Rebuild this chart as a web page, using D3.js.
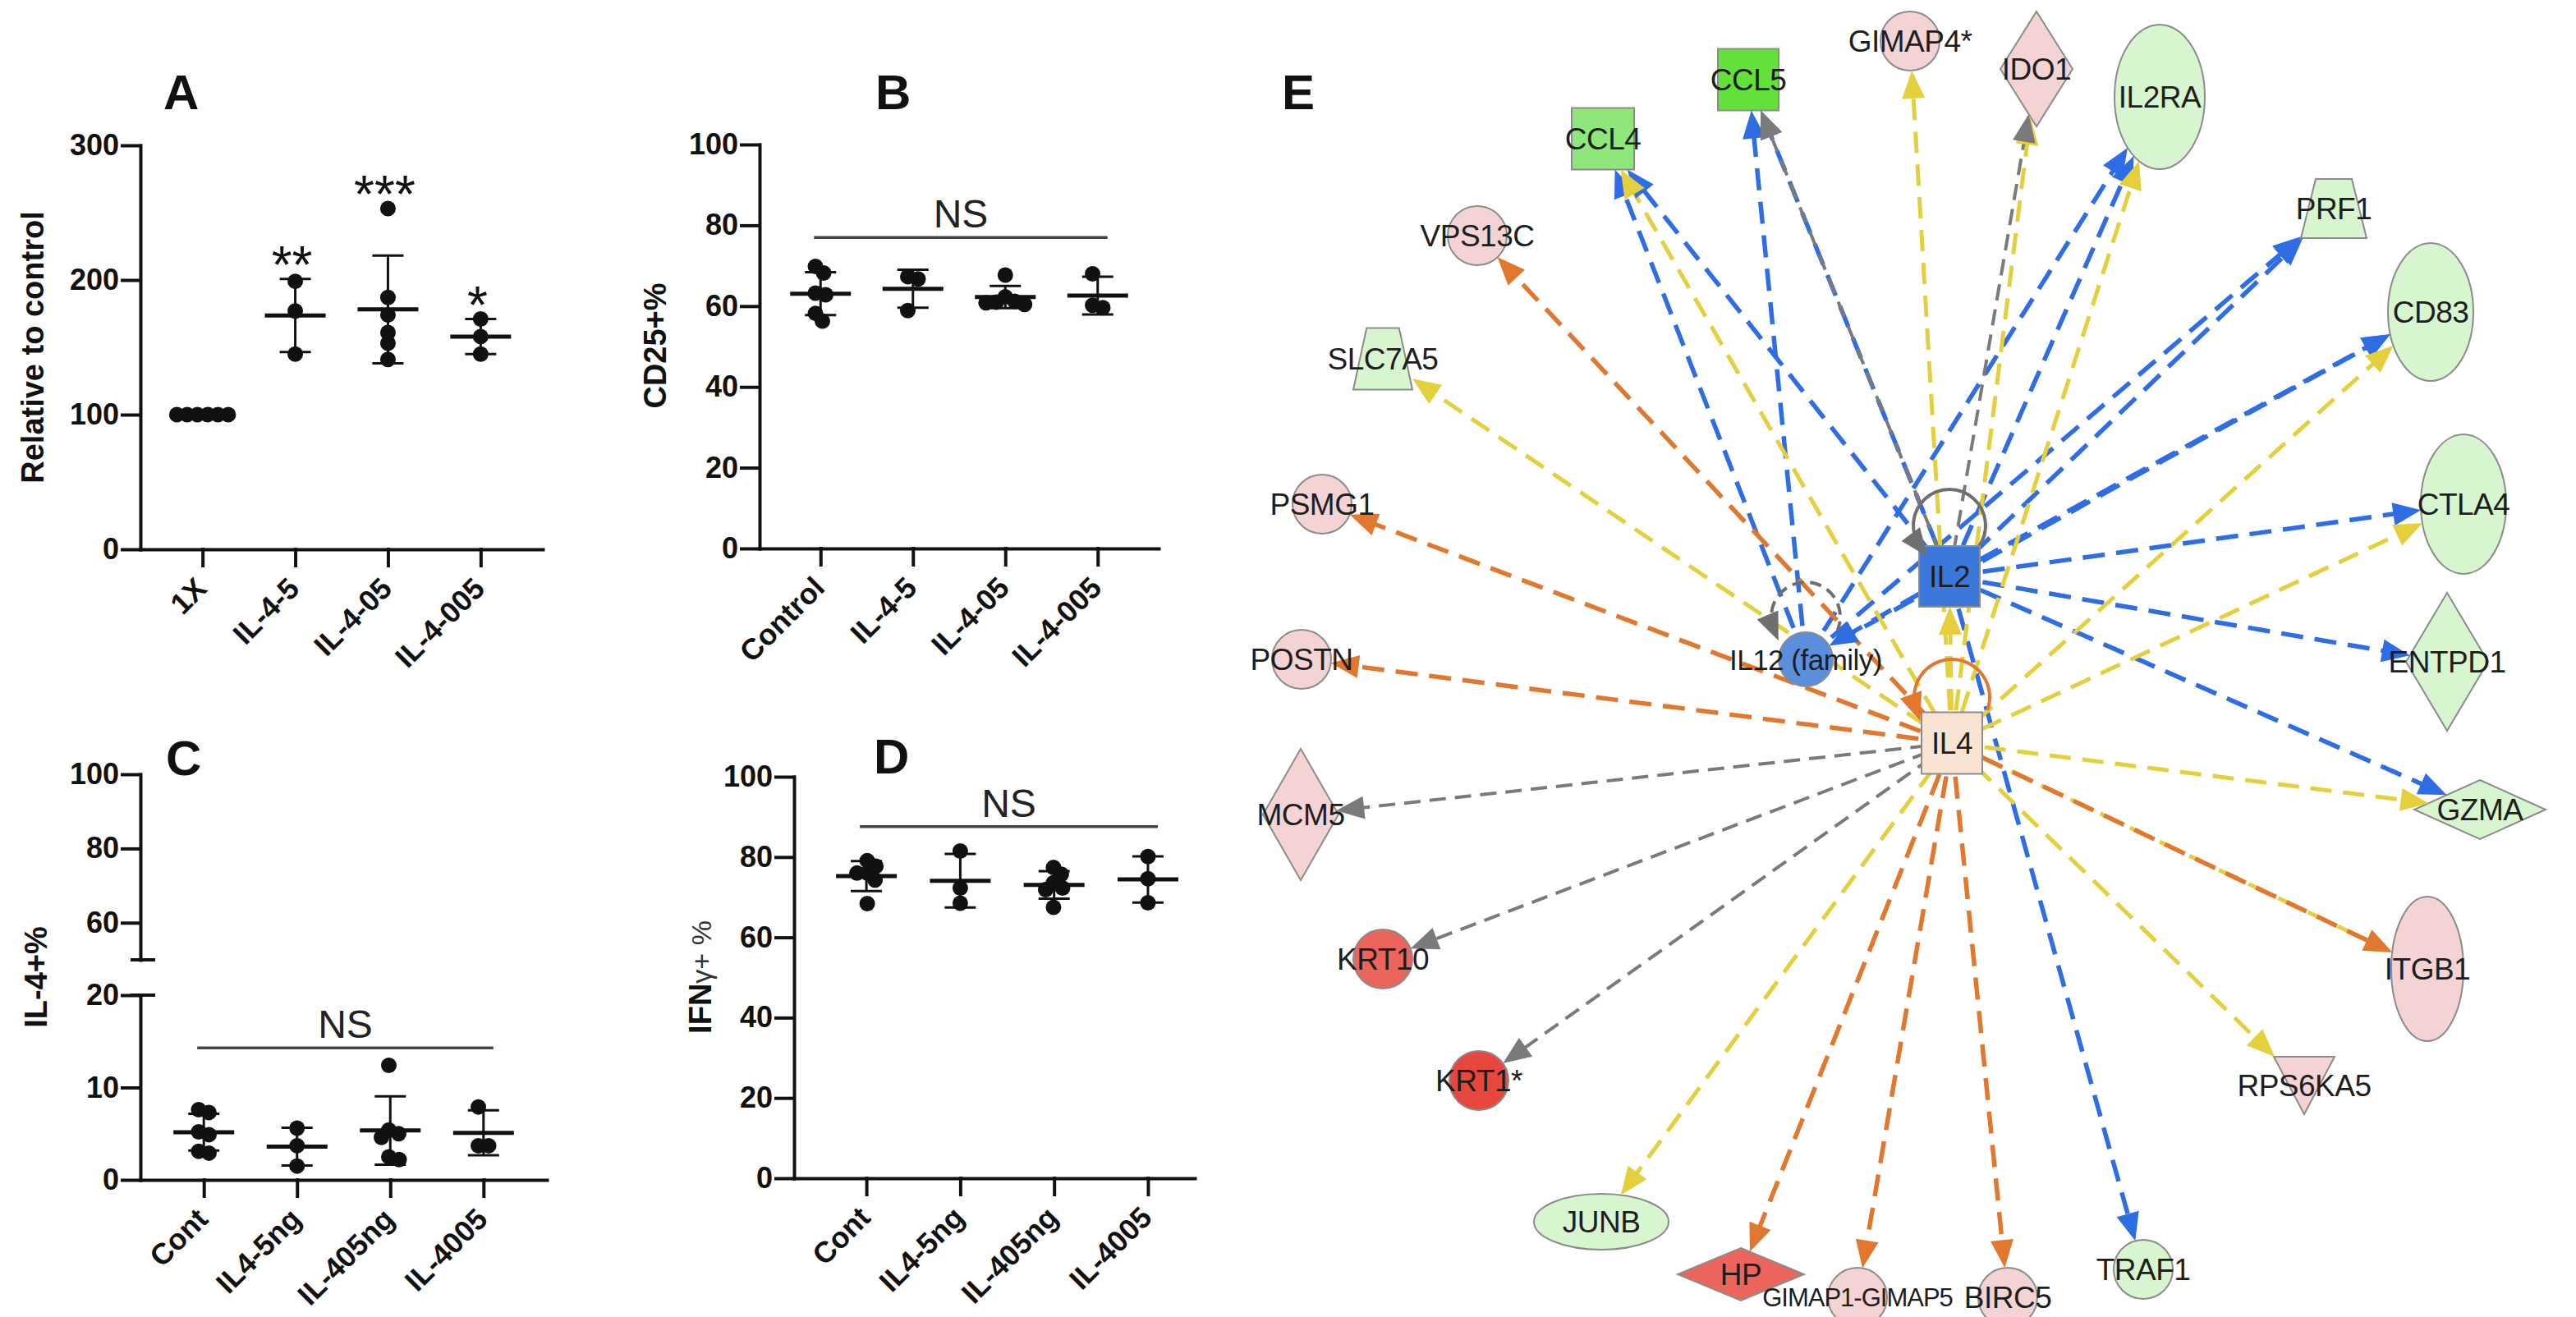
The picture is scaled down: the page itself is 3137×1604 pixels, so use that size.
<!DOCTYPE html>
<html>
<head>
<meta charset="utf-8">
<script src="https://cdn.jsdelivr.net/npm/d3@7"></script>
<style>
	body { margin: 0; background: #fff; }
	svg { display: block; }
	text { font-family: 'Liberation Sans', Arial, sans-serif; }
</style>
</head>
<body>
<svg id="fig" width="3137" height="1604"></svg>
<script>
// ---------- panel A ----------
const catsA = ['1X', 'IL-4-5', 'IL-4-05', 'IL-4-005'];
const valsA = [
	[100, 100, 100, 100, 100, 100],
	[199, 177, 145],
	[253, 187, 174, 161, 153, 141],
	[171, 158, 145],
];
const starsA = ['', '**', '***', '*'];
const ticksA = [0, 100, 200, 300];

// ---------- panel B ----------
const catsB = ['Control', 'IL-4-5', 'IL-4-05', 'IL-4-005'];
const valsB = [
	[69.8, 68.2, 63.2, 62.8, 58.2, 56.3],
	[67.3, 66.7, 58.9],
	[67.7, 62.3, 61.2, 60.8, 60.4, 61.0],
	[68.0, 59.6, 60.2],
];
const ticksB = [0, 20, 40, 60, 80, 100];
const nsB = 77;

// ---------- panel C ----------
const catsC = ['Cont', 'IL4-5ng', 'IL-405ng', 'IL-4005'];
const valsC = [
	[7.6, 7.3, 5.2, 4.9, 2.9, 3.1],
	[5.6, 3.7, 1.5],
	[12.4, 5.4, 5.0, 4.6, 2.5, 2.2],
	[7.9, 3.7, 3.7],
];
const ticksCLow = [0, 10, 20];
const ticksCHigh = [60, 80, 100];
const nsC = 14.3;

// ---------- panel D ----------
const catsD = ['Cont', 'IL4-5ng', 'IL-405ng', 'IL-4005'];
const valsD = [
	[77.7, 79.1, 76.0, 74.3, 76.0, 68.4],
	[81.5, 68.5, 72.3],
	[75.7, 77.4, 72.3, 73.6, 71.9, 67.5],
	[80.1, 74.6, 68.6],
];
const ticksD = [0, 20, 40, 60, 80, 100];
const nsD = 87.6;

// ---------- panel E (network) ----------
const genes = ['IL2', 'IL4', 'IL12 (family)', 'CCL4', 'CCL5', 'GIMAP4*', 'IDO1', 'IL2RA', 'PRF1',
	'CD83', 'CTLA4', 'ENTPD1', 'GZMA', 'ITGB1', 'RPS6KA5', 'TRAF1', 'BIRC5', 'GIMAP1-GIMAP5',
	'HP', 'JUNB', 'KRT1*', 'KRT10', 'MCM5', 'POSTN', 'PSMG1', 'SLC7A5', 'VPS13C'];
const geneShape = {
	'IL2': 'rect', 'IL4': 'rect', 'CCL4': 'rect', 'CCL5': 'rect',
	'IL12 (family)': 'circle', 'GIMAP4*': 'circle', 'TRAF1': 'circle', 'BIRC5': 'circle',
	'GIMAP1-GIMAP5': 'circle', 'KRT1*': 'circle', 'KRT10': 'circle', 'POSTN': 'circle',
	'PSMG1': 'circle', 'VPS13C': 'circle',
	'IDO1': 'diamond', 'ENTPD1': 'diamond', 'MCM5': 'diamond', 'GZMA': 'diamond', 'HP': 'diamond',
	'IL2RA': 'ellipse', 'CD83': 'ellipse', 'CTLA4': 'ellipse', 'ITGB1': 'ellipse', 'JUNB': 'ellipse',
	'PRF1': 'trapezoid', 'SLC7A5': 'trapezoid', 'RPS6KA5': 'triangle',
};
const geneTone = {
	'IL2': 'hub', 'IL12 (family)': 'hub2', 'IL4': 'input',
	'CCL5': 'down3', 'CCL4': 'down2',
	'IL2RA': 'down1', 'PRF1': 'down1', 'CD83': 'down1', 'CTLA4': 'down1', 'ENTPD1': 'down1',
	'GZMA': 'down1', 'TRAF1': 'down1', 'JUNB': 'down1', 'SLC7A5': 'down1',
	'KRT1*': 'up3', 'HP': 'up2', 'KRT10': 'up2',
};
const toneColor = {
	hub: '#3b78db', hub2: '#5b8fdc', input: '#f9e4d4',
	down3: '#63e03a', down2: '#8fe67b', down1: '#d7f5cf',
	up3: '#e8473d', up2: '#eb655d', up1: '#f3d3d3',
};
// node centre and size, in panel E units
const layoutE = {
	'CCL4': [412, 169, 76, 75], 'CCL5': [589, 97, 74, 75], 'GIMAP4*': [786, 50, 72, 72],
	'IDO1': [940, 84, 88, 140], 'IL2RA': [1090, 118, 110, 176], 'PRF1': [1302, 254, 80, 72],
	'CD83': [1420, 380, 104, 168], 'CTLA4': [1460, 614, 104, 170], 'ENTPD1': [1440, 806, 100, 168],
	'GZMA': [1480, 986, 160, 72], 'ITGB1': [1416, 1180, 88, 176], 'RPS6KA5': [1266, 1322, 74, 70],
	'TRAF1': [1070, 1546, 72, 72], 'BIRC5': [905, 1580, 72, 72], 'GIMAP1-GIMAP5': [722, 1580, 72, 72],
	'HP': [580, 1552, 154, 64], 'JUNB': [410, 1488, 164, 68], 'KRT1*': [261, 1316, 72, 72],
	'KRT10': [144, 1168, 72, 72], 'MCM5': [44, 992, 92, 160], 'POSTN': [45, 803, 72, 72],
	'PSMG1': [70, 614, 72, 72], 'SLC7A5': [144, 437, 72, 75], 'VPS13C': [259, 287, 72, 72],
	'IL2': [834, 702, 74, 74], 'IL12 (family)': [659, 803, 66, 66], 'IL4': [837, 905, 74, 75],
};
const labelSize = { 'GIMAP1-GIMAP5': 31, 'IL12 (family)': 35 };
const blueFromIL2 = ['CCL4', 'CCL5', 'IL2RA', 'PRF1', 'CD83', 'CTLA4', 'ENTPD1', 'GZMA', 'TRAF1', 'IL12 (family)'];
const blueFromIL12 = ['CCL4', 'CCL5', 'IL2RA', 'PRF1', 'CD83'];
const yellowFromIL4 = ['SLC7A5', 'CCL4', 'GIMAP4*', 'IDO1', 'IL2RA', 'CD83', 'CTLA4', 'GZMA', 'ITGB1', 'RPS6KA5', 'JUNB', 'IL2'];
const orangeFromIL4 = ['VPS13C', 'PSMG1', 'POSTN', 'HP', 'GIMAP1-GIMAP5', 'BIRC5', 'ITGB1'];
const grayFromIL4 = ['MCM5', 'KRT10', 'KRT1*'];
const grayFromIL2 = ['CCL5', 'IDO1'];

const svg = d3.select('#fig');
const ink = '#111';

// dot placement that pushes overlapping points sideways, like a scatter dot plot
const swarm = (vals, y, minDist) => {
	const placed = [];
	vals
		.map((v) => v)
		.sort((a, b) => b - a)
		.forEach((v) => {
			const py = y(v);
			let dx = 0;
			for (let k = 0; k < 300; k++) {
				const cands = k === 0 ? [0] : [k * 0.5, -k * 0.5];
				const hit = cands.find((c) => placed.every((p) => Math.hypot(p.dx - c, p.py - py) >= minDist));
				if (hit !== undefined) {
					dx = hit;
					break;
				}
			}
			placed.push({ v, py, dx });
		});
	const ext = d3.extent(placed, (d) => d.dx);
	const shift = (ext[0] + ext[1]) / 2;
	placed.forEach((d) => (d.dx -= shift));
	return placed;
};

const styleAxis = (sel) => {
	sel.selectAll('path, line').attr('stroke', ink).attr('stroke-width', 4).attr('stroke-linecap', 'square');
	sel.selectAll('text')
		.attr('fill', ink)
		.style('font-size', '36px')
		.style('font-weight', 'bold');
};

const drawPanel = (p) => {
	const g = svg.append('g');
	const x = d3.scalePoint().domain(p.cats).range([p.x0, p.xEnd]).padding(p.pad).align(p.align ?? 0.5);
	const y = d3.scaleLinear().domain(p.domain).range(p.range);
	const base = p.range[0];

	// x axis
	g.append('g')
		.attr('transform', `translate(0,${base})`)
		.call(d3.axisBottom(x).tickSize(20).tickSizeOuter(0).tickFormat(''))
		.call(styleAxis);
	g.selectAll('.xlab')
		.data(p.cats)
		.join('text')
		.attr('class', 'xlab')
		.attr('transform', (d) => `translate(${x(d) + 7},${base + 50}) rotate(-45)`)
		.attr('text-anchor', 'end')
		.attr('fill', ink)
		.style('font-size', '36px')
		.style('font-weight', 'bold')
		.text((d) => d);

	// y axis (one or two segments)
	g.append('g')
		.attr('transform', `translate(${p.x0},0)`)
		.call(d3.axisLeft(y).tickValues(p.ticks).tickSize(22).tickPadding(4).tickSizeOuter(0))
		.call(styleAxis);
	if (p.upper) {
		const yu = d3.scaleLinear().domain(p.upper.domain).range(p.upper.range);
		g.append('g')
			.attr('transform', `translate(${p.x0},0)`)
			.call(d3.axisLeft(yu).tickValues(p.upper.ticks).tickSize(22).tickPadding(4).tickSizeOuter(0))
			.call(styleAxis);
		[p.upper.range[0], p.range[1]].forEach((yy) => {
			g.append('line')
				.attr('x1', p.x0 - 12).attr('x2', p.x0 + 18)
				.attr('y1', yy).attr('y2', yy)
				.attr('stroke', ink).attr('stroke-width', 4);
		});
	}

	// dots
	p.vals.forEach((vals, i) => {
		const cx = x(p.cats[i]);
		g.append('g')
			.selectAll('circle')
			.data(swarm(vals, y, 12.5))
			.join('circle')
			.attr('cx', (d) => cx + d.dx)
			.attr('cy', (d) => d.py)
			.attr('r', 9.5)
			.attr('fill', ink);
	});

	// mean +/- SD
	p.vals.forEach((vals, i) => {
		const cx = x(p.cats[i]);
		const m = d3.mean(vals);
		const s = d3.deviation(vals) || 0;
		const eg = g.append('g').attr('stroke', ink);
		eg.append('line').attr('x1', cx).attr('x2', cx).attr('y1', y(m + s)).attr('y2', y(m - s)).attr('stroke-width', 3);
		[m + s, m - s].forEach((v) => {
			eg.append('line').attr('x1', cx - 19).attr('x2', cx + 19).attr('y1', y(v)).attr('y2', y(v)).attr('stroke-width', 3);
		});
		eg.append('line').attr('x1', cx - 37).attr('x2', cx + 37).attr('y1', y(m)).attr('y2', y(m)).attr('stroke-width', 5);

		if (p.stars && p.stars[i]) {
			const top = Math.max(d3.max(vals), m + s);
			g.append('text')
				.attr('x', cx - 4)
				.attr('y', y(top) - 32 + 37)
				.attr('text-anchor', 'middle')
				.attr('fill', ink)
				.style('font-size', '64px')
				.text(p.stars[i]);
		}
	});

	// NS bracket
	if (p.ns !== undefined) {
		const x1 = x(p.cats[0]) - 8;
		const x2 = x(p.cats[p.cats.length - 1]) + 12;
		g.append('line')
			.attr('x1', x1).attr('x2', x2)
			.attr('y1', y(p.ns)).attr('y2', y(p.ns))
			.attr('stroke', '#444').attr('stroke-width', 3.5);
		g.append('text')
			.attr('x', (x1 + x2) / 2)
			.attr('y', y(p.ns) - 12)
			.attr('text-anchor', 'middle')
			.attr('fill', '#222')
			.style('font-size', '48px')
			.text('NS');
	}

	// panel letter
	g.append('text')
		.attr('x', p.letter[1]).attr('y', p.letter[2])
		.attr('fill', ink)
		.style('font-size', '60px').style('font-weight', 'bold')
		.text(p.letter[0]);

	// y title
	const yt = g.append('text')
		.attr('transform', `translate(${p.yTitle[1]},${p.yTitle[2]}) rotate(-90)`)
		.attr('text-anchor', 'middle')
		.attr('dy', '0.35em')
		.attr('fill', ink)
		.style('font-size', '38px').style('font-weight', 'bold');
	yt.append('tspan').text(p.yTitle[0]);
	if (p.yTitle[3]) {
		yt.append('tspan').style('font-weight', 'normal').style('font-size', '34px').attr('fill', '#333').text(p.yTitle[3]);
	}
};

drawPanel({
	cats: catsA, vals: valsA, ticks: ticksA, stars: starsA,
	domain: [0, 300], range: [669, 177], x0: 171, xEnd: 661, pad: 0.67,
	letter: ['A', 199, 133], yTitle: ['Relative to control', 40, 423],
});
drawPanel({
	cats: catsB, vals: valsB, ticks: ticksB, ns: nsB,
	domain: [0, 100], range: [668, 176], x0: 925, xEnd: 1411, pad: 0.66,
	letter: ['B', 1066, 133], yTitle: ['CD25+%', 798, 421],
});
drawPanel({
	cats: catsC, vals: valsC, ticks: ticksCLow, ns: nsC,
	domain: [0, 20], range: [1437, 1212], x0: 171, xEnd: 666, pad: 0.68,
	upper: { domain: [50, 100], range: [1169, 943], ticks: ticksCHigh },
	letter: ['C', 202, 944], yTitle: ['IL-4+%', 44, 1190],
});
drawPanel({
	cats: catsD, vals: valsD, ticks: ticksD, ns: nsD,
	domain: [0, 100], range: [1435, 946], x0: 967, xEnd: 1455, pad: 0.635, align: 0.607,
	letter: ['D', 1064, 942], yTitle: ['IFN', 853, 1190, 'γ+ %'],
});

// ---------- network ----------
const xE = d3.scaleLinear().domain([0, 1600]).range([1540, 3140]);
const yE = d3.scaleLinear().domain([0, 1600]).range([0, 1600]);
const net = svg.append('g');

const nodes = genes.map((id) => {
	const [lx, ly, w, h] = layoutE[id];
	return { id, x: xE(lx), y: yE(ly), w, h, shape: geneShape[id], fill: toneColor[geneTone[id] || 'up1'] };
});
const byId = new Map(nodes.map((n) => [n.id, n]));

// distance from node centre to its outline along unit vector (ux, uy)
const reach = (n, ux, uy) => {
	const hw = n.w / 2;
	const hh = n.h / 2;
	const ax = Math.abs(ux) + 1e-9;
	const ay = Math.abs(uy) + 1e-9;
	if (n.shape === 'rect' || n.shape === 'trapezoid' || n.shape === 'triangle') return Math.min(hw / ax, hh / ay);
	if (n.shape === 'diamond') return 1 / (ax / hw + ay / hh);
	return 1 / Math.sqrt((ux / hw) ** 2 + (uy / hh) ** 2);
};

const edgeStyle = {
	blue: { color: '#2f6de4', width: 5.5, dash: '27 14' },
	yellow: { color: '#e4cf3c', width: 5, dash: '26 14' },
	orange: { color: '#e2772e', width: 5.5, dash: '27 14' },
	gray: { color: '#7a7a7a', width: 4, dash: '20 11' },
};
const edges = [];
blueFromIL2.forEach((t) => edges.push({ s: 'IL2', t, kind: 'blue' }));
blueFromIL12.forEach((t) => edges.push({ s: 'IL12 (family)', t, kind: 'blue' }));
yellowFromIL4.forEach((t) => edges.push({ s: 'IL4', t, kind: 'yellow' }));
orangeFromIL4.forEach((t) => edges.push({ s: 'IL4', t, kind: 'orange' }));
grayFromIL4.forEach((t) => edges.push({ s: 'IL4', t, kind: 'gray' }));
grayFromIL2.forEach((t) => edges.push({ s: 'IL2', t, kind: 'gray' }));

const arrowLen = 34;
const arrowHalf = 14;
edges.forEach((e) => {
	const s = byId.get(e.s);
	const t = byId.get(e.t);
	const dx = t.x - s.x;
	const dy = t.y - s.y;
	const len = Math.hypot(dx, dy);
	const ux = dx / len;
	const uy = dy / len;
	const r = reach(t, -ux, -uy);
	e.tip = [t.x - ux * r, t.y - uy * r];
	e.u = [ux, uy];
	e.start = [s.x, s.y];
	e.end = [e.tip[0] - ux * arrowLen * 0.8, e.tip[1] - uy * arrowLen * 0.8];
});

net.append('g')
	.selectAll('line')
	.data(edges)
	.join('line')
	.attr('x1', (e) => e.start[0])
	.attr('y1', (e) => e.start[1])
	.attr('x2', (e) => e.end[0])
	.attr('y2', (e) => e.end[1])
	.attr('stroke', (e) => edgeStyle[e.kind].color)
	.attr('stroke-width', (e) => edgeStyle[e.kind].width)
	.attr('stroke-dasharray', (e) => edgeStyle[e.kind].dash);

// self loops on the three hubs
const loops = [
	{ id: 'IL2', oy: -62, r: 44, a0: 143, a1: 397, color: '#6f6f6f', dash: null },
	{ id: 'IL12 (family)', oy: -52, r: 42, a0: 157, a1: 383, color: '#6f6f6f', dash: '14 8' },
	{ id: 'IL4', oy: -56, r: 46, a0: 160, a1: 380, color: '#e2772e', dash: null },
];
const rad = Math.PI / 180;
loops.forEach((l) => {
	const n = byId.get(l.id);
	const cx = n.x;
	const cy = n.y + l.oy;
	const p = d3.path();
	p.arc(cx, cy, l.r, l.a0 * rad, l.a1 * rad);
	net.append('path')
		.attr('d', p.toString())
		.attr('fill', 'none')
		.attr('stroke', l.color)
		.attr('stroke-width', 4)
		.attr('stroke-dasharray', l.dash);
	const a = l.a0 * rad;
	const px = cx + l.r * Math.cos(a);
	const py = cy + l.r * Math.sin(a);
	const tx = Math.sin(a);
	const ty = -Math.cos(a);
	l.arrow = { tip: [px + tx * 14, py + ty * 14], u: [tx, ty], color: l.color };
});

// nodes
const shapePath = (n) => {
	const hw = n.w / 2;
	const hh = n.h / 2;
	if (n.shape === 'diamond') return `M0,${-hh}L${hw},0L0,${hh}L${-hw},0Z`;
	if (n.shape === 'trapezoid') return `M${-hw * 0.55},${-hh}L${hw * 0.55},${-hh}L${hw},${hh}L${-hw},${hh}Z`;
	if (n.shape === 'triangle') return `M${-hw},${-hh}L${hw},${-hh}L0,${hh}Z`;
	return `M${-hw},${-hh}H${hw}V${hh}H${-hw}Z`;
};
const ng = net.append('g')
	.selectAll('g')
	.data(nodes)
	.join('g')
	.attr('transform', (n) => `translate(${n.x},${n.y})`);
ng.filter((n) => n.shape === 'circle' || n.shape === 'ellipse')
	.append('ellipse')
	.attr('rx', (n) => n.w / 2)
	.attr('ry', (n) => n.h / 2)
	.attr('fill', (n) => n.fill)
	.attr('stroke', '#8c8c8c')
	.attr('stroke-width', 2);
ng.filter((n) => n.shape !== 'circle' && n.shape !== 'ellipse')
	.append('path')
	.attr('d', shapePath)
	.attr('fill', (n) => n.fill)
	.attr('stroke', '#8c8c8c')
	.attr('stroke-width', 2);

// arrowheads
const heads = edges.map((e) => ({ tip: e.tip, u: e.u, color: edgeStyle[e.kind].color }))
	.concat(loops.map((l) => l.arrow));
net.append('g')
	.selectAll('path')
	.data(heads)
	.join('path')
	.attr('d', (h) => {
		const [tx, ty] = h.tip;
		const [ux, uy] = h.u;
		const bx = tx - ux * arrowLen;
		const by = ty - uy * arrowLen;
		return `M${tx},${ty}L${bx - uy * arrowHalf},${by + ux * arrowHalf}L${bx + uy * arrowHalf},${by - ux * arrowHalf}Z`;
	})
	.attr('fill', (h) => h.color);

// labels
net.append('g')
	.selectAll('text')
	.data(nodes)
	.join('text')
	.attr('x', (n) => n.x)
	.attr('y', (n) => n.y)
	.attr('dy', '0.36em')
	.attr('text-anchor', 'middle')
	.attr('fill', '#1e1e1e')
	.style('font-size', (n) => `${labelSize[n.id] || 37}px`)
	.style('letter-spacing', (n) => (n.id === 'GIMAP1-GIMAP5' ? '-1px' : '-0.5px'))
	.text((n) => n.id);

svg.append('text')
	.attr('x', 1561).attr('y', 133)
	.attr('fill', ink)
	.style('font-size', '60px').style('font-weight', 'bold')
	.text('E');
</script>
</body>
</html>
